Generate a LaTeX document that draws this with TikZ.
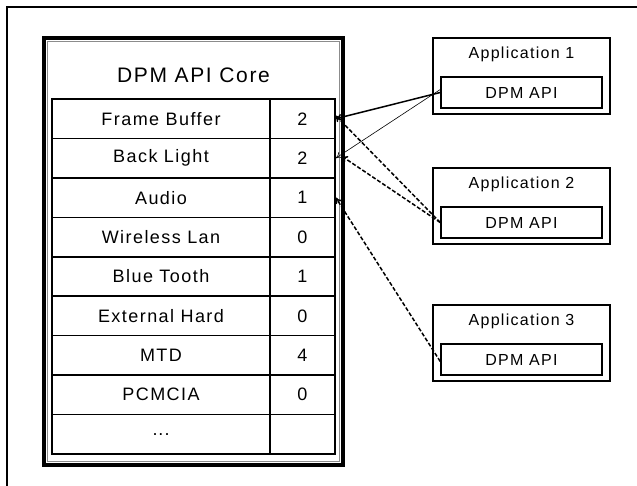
\documentclass[tikz,border=0pt]{standalone}
\usepackage{fontspec}
\newfontfamily\gf{Liberation Sans}[LetterSpace=8]
\newcommand\rowdots{.\kern1pt.\kern1pt.}
\usetikzlibrary{arrows.meta}
\begin{document}
\begin{tikzpicture}[x=1pt,y=-1pt,
  cell/.style={draw,line width=1.5pt,inner sep=0pt,minimum height=39.44pt,font=\gf\fontsize{18}{18}\selectfont},
  namecell/.style={cell,minimum width=218pt},
  valcell/.style={cell,minimum width=65pt},
  appbox/.style={draw,line width=1.5pt,inner sep=0pt,minimum width=177pt,minimum height=76pt},
  apibox/.style={draw,line width=1.5pt,inner sep=0pt,minimum width=161pt,minimum height=31pt,font=\gf\fontsize{16}{16}\selectfont},
  apptitle/.style={font=\gf\fontsize{16}{16}\selectfont,inner sep=0pt},
  link/.style={line width=1.5pt,-{To[length=6pt,width=7pt]}},
  dlink/.style={link,dashed,dash pattern=on 4pt off 2pt}
]
\useasboundingbox (0,0) rectangle (637,486);
% outer frame (runs past the right and bottom edges)
\draw[line width=1.3pt] (7,500) -- (7,7) -- (650,7);
% core box
\node[draw,line width=3.5pt,inner sep=0pt,minimum width=299pt,minimum height=427pt] (core) at (193.5,251.5) {};
\draw[line width=0.6pt,black!45] (47.5,41.5) rectangle (339.5,461.5);
\node[font=\gf\fontsize{21}{21}\selectfont,inner sep=0pt] (title) at (193.5,75) {DPM API Core};
% table rows
\foreach \i/\n/\v in {1/Frame Buffer/2,2/Back Light/2,3/Audio/1,4/Wireless Lan/0,5/Blue Tooth/1,6/External Hard/0,7/MTD/4,8/PCMCIA/0,9/\rowdots/{}}{
  \node[namecell] (r\i) at (161,{99+39.44*(\i-0.5)}) {\n};
  \node[valcell] (v\i) at (302.5,{99+39.44*(\i-0.5)}) {\v};
}
% applications
\foreach \i/\y in {1/38,2/168,3/305}{
  \node[appbox] (app\i) at (521.5,{\y+38}) {};
  \node[apptitle] (t\i) at (521.5,{\y+16}) {Application \i};
  \node[apibox] (d\i) at (521.5,{\y+54.5}) {DPM API};
}
% connectors
\draw[link] (d1.west) -- (v1.east);
\draw[line width=0.6pt,-{To[length=6pt,width=7pt]}] ([yshift=3pt]d1.west) -- (v2.east);
\draw[dlink] (d2.west) -- ([yshift=3pt]v1.east);
\draw[dlink] (d2.west) -- ([xshift=6pt,yshift=2pt]v2.east);
\draw[dlink] ([yshift=-2pt]d3.west) -- (v3.east);
\end{tikzpicture}
\end{document}
